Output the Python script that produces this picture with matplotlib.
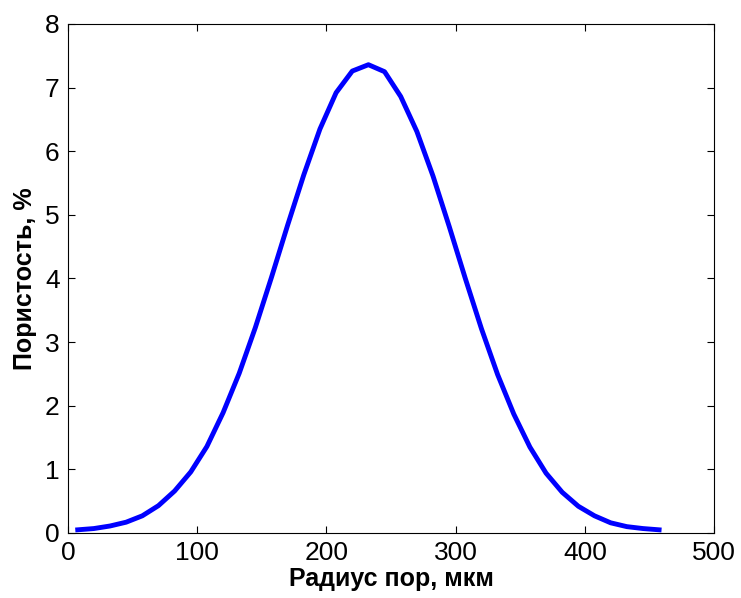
import matplotlib
matplotlib.use("Agg")
import matplotlib.pyplot as plt

# radius of pores, um  /  porosity, %
radius = [7.5, 20, 32.5, 45, 57.5, 70, 82.5, 95, 107.5, 120, 132.5, 145,
          157.5, 170, 182.5, 195, 207.5, 220, 232.5, 245, 257.5, 270, 282.5,
          295, 307.5, 320, 332.5, 345, 357.5, 370, 382.5, 395, 407.5, 420,
          432.5, 445, 457.5]
porosity = [0.05, 0.07, 0.11, 0.17, 0.27, 0.43, 0.66, 0.96, 1.36, 1.89,
            2.51, 3.23, 4.02, 4.84, 5.63, 6.35, 6.92, 7.26, 7.36, 7.25,
            6.86, 6.31, 5.61, 4.82, 4.00, 3.21, 2.49, 1.87, 1.35, 0.94,
            0.64, 0.42, 0.27, 0.16, 0.10, 0.07, 0.05]

plt.rcParams['font.family'] = ['Liberation Sans', 'DejaVu Sans']

fig = plt.figure(figsize=(7.41, 5.98), dpi=100)
ax = fig.add_axes([0.0918, 0.1087, 0.8718, 0.8512])

ax.plot(radius, porosity, color='#0000ff', lw=3.5)

ax.set_xlim(0, 500)
ax.set_ylim(0, 8)
ax.set_xticks(range(0, 501, 100))
ax.set_yticks(range(0, 9))
ax.tick_params(direction='in', length=5, width=0.8, top=True, right=True,
               labelsize=19, pad=6)
for s in ax.spines.values():
    s.set_linewidth(0.8)

ax.set_xlabel('Радиус пор, мкм', fontsize=18, fontweight='bold', labelpad=1)
ax.set_ylabel('Пористость, %', fontsize=18, fontweight='bold', labelpad=6)

fig.savefig('out.png', dpi=100)
